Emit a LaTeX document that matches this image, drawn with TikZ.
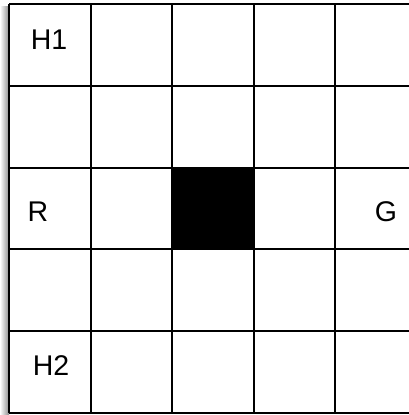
\documentclass[tikz,border=0pt]{standalone}
\usepackage{fontspec}
\setmainfont{Liberation Sans}
\tikzset{
  gridline/.style={draw=black,line width=2pt},
  blocked/.style={fill=black},
  celllabel/.style={anchor=base,font=\fontsize{28.5}{31}\selectfont,text=black,inner sep=0pt}
}
\begin{document}
\begin{tikzpicture}[x=1pt,y=-1pt]
  \useasboundingbox (0,0) rectangle (409,415);
  \clip (0,0) rectangle (409,415);
  \fill[white] (0,0) rectangle (409,415);

  % shadow along the left edge
  \shade[left color=white,right color=black!45] (0,6) rectangle (9,415);

  % blocked cell
  \fill[blocked] (172,167.6) rectangle (253.5,249.4);

  % grid
  \foreach \i in {0,...,5}
    \draw[gridline] (9+81.5*\i,4) -- (9+81.5*\i,413);
  \foreach \j in {0,...,5}
    \draw[gridline] (9,4+81.8*\j) -- (420,4+81.8*\j);

  % labels
  \node[celllabel] (hone) at (49,49) {H1};
  \node[celllabel] (start) at (38,221) {R};
  \node[celllabel] (goal) at (386,221) {G};
  \node[celllabel] (htwo) at (51,375) {H2};
\end{tikzpicture}
\end{document}
